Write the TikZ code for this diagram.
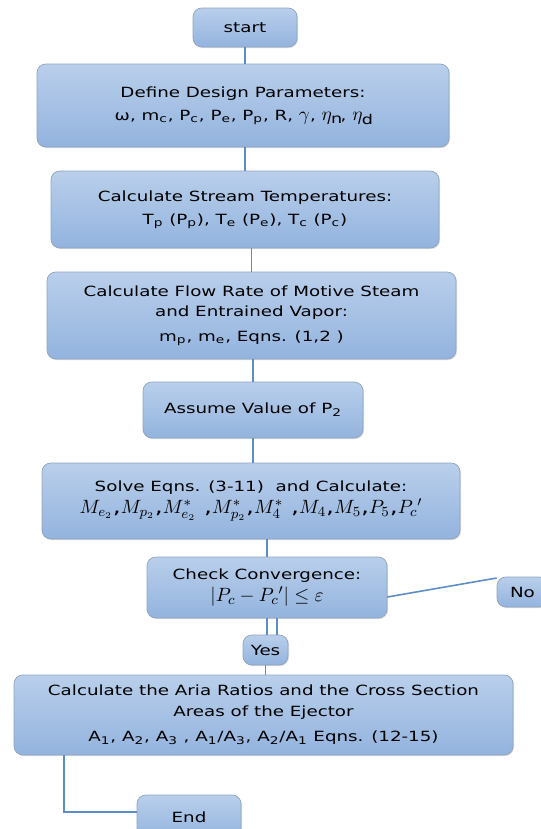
\documentclass[tikz,border=0pt]{standalone}
\usepackage{amsmath,amssymb}
\usepackage{fontspec}
\setmainfont[FakeStretch=1.3]{DejaVu Sans}
\usetikzlibrary{calc,shadows}
\definecolor{boxtop}{HTML}{B9CFEB}
\definecolor{boxbot}{HTML}{93B3DE}
\definecolor{boxline}{HTML}{8FA3BF}
\definecolor{flowline}{HTML}{5B8DC6}
\newcommand{\pxu}{0.02cm}
\newcommand{\mth}[1]{{\fontsize{11}{13}\selectfont #1}}

\begin{document}
\begin{tikzpicture}[x=0.02cm, y=-0.02cm,
  box/.style={draw=boxline, rounded corners=5pt, top color=boxtop, bottom color=boxbot,
    align=center, inner sep=0pt, font=\fontsize{8}{11.5}\selectfont,
    drop shadow={opacity=0.25, shadow xshift=0.6pt, shadow yshift=-0.6pt}},
  link/.style={draw=flowline, line width=0.9pt}]
  \useasboundingbox (0,0) rectangle (541,829);
  % boxes
  \node[box, minimum width=104*\pxu, minimum height=39*\pxu] (start) at (245,27.5) {start};
  \node[box, minimum width=412*\pxu, minimum height=83*\pxu] (define) at (243,105.5)
    {Define Design Parameters:\\[2pt] ω, m\textsubscript{c}, P\textsubscript{c}, P\textsubscript{e}, P\textsubscript{p}, R, \mth{$\gamma$}, \mth{$\eta_{\mathrm{n}}$}, \mth{$\eta_{\mathrm{d}}$}};
  \node[box, minimum width=388*\pxu, minimum height=77*\pxu] (temp) at (245,209.5)
    {Calculate Stream Temperatures:\\[2pt] T\textsubscript{p} (P\textsubscript{p}), T\textsubscript{e} (P\textsubscript{e}), T\textsubscript{c} (P\textsubscript{c})};
  \node[box, minimum width=409*\pxu, minimum height=87*\pxu] (flow) at (251.5,315.5)
    {Calculate Flow Rate of Motive Steam\\ and Entrained Vapor:\\[3pt] m\textsubscript{p}, m\textsubscript{e}, Eqns. (1,2 )};
  \node[box, minimum width=220*\pxu, minimum height=56*\pxu] (assume) at (253,410)
    {Assume Value of P\textsubscript{2}};
  \node[box, minimum width=418*\pxu, minimum height=76*\pxu] (solve) at (251,501)
    {Solve Eqns. (3-11)~ and Calculate:\\[1pt]
     \mth{$M_{e_2}$,$M_{p_2}$,$M^*_{e_2}$ ,$M^*_{p_2}$,$M^*_4$ ,$M_4$,$M_5$,$P_5$,$P_c{}'$}};
  \node[box, minimum width=240*\pxu, minimum height=61*\pxu] (check) at (267,587.5)
    {Check Convergence:\\[1pt] \mth{$|P_c - P_c{}'| \le \varepsilon$}};
  \node[box, minimum width=51*\pxu, minimum height=30*\pxu] (no) at (522.5,592) {No};
  \node[box, minimum width=45*\pxu, minimum height=30*\pxu] (yes) at (265.5,650) {Yes};
  \node[box, minimum width=499*\pxu, minimum height=80*\pxu] (area) at (263.5,715)
    {Calculate the Aria Ratios and the Cross Section\\ Areas of the Ejector\\[3pt]
     A\textsubscript{1}, A\textsubscript{2}, A\textsubscript{3} , A\textsubscript{1}/A\textsubscript{3}, A\textsubscript{2}/A\textsubscript{1} Eqns. (12-15)};
  \node[box, minimum width=104*\pxu, minimum height=44*\pxu] (end) at (189,817) {End};
  % connectors
  \draw[link] (start.south) -- (start.south |- define.north);
  \draw[link] (start.south |- define.south) -- (start.south |- temp.north);
  \draw[link] (flow.north |- temp.south) -- (flow.north);
  \draw[link] (assume.north |- flow.south) -- (assume.north);
  \draw[link] (assume.south) -- (assume.south |- solve.north);
  \draw[link] (check.north |- solve.south) -- (check.north);
  \draw[link] ($(check.east)+(0,9.5)$) -- ($(no.west)+(0,-14)$);
  \draw[link] (check.south) -- (check.south |- yes.north);
  \draw[link] ($(check.south)+(10,0)$) -- ($(check.south |- yes.north)+(10,0)$);
  \draw[link] (yes.south) -- (yes.south |- area.north);
  \coordinate (bend) at (64,812);
  \draw[link] (bend |- area.south) -- (bend) -- (end.west |- bend);
\end{tikzpicture}
\end{document}
